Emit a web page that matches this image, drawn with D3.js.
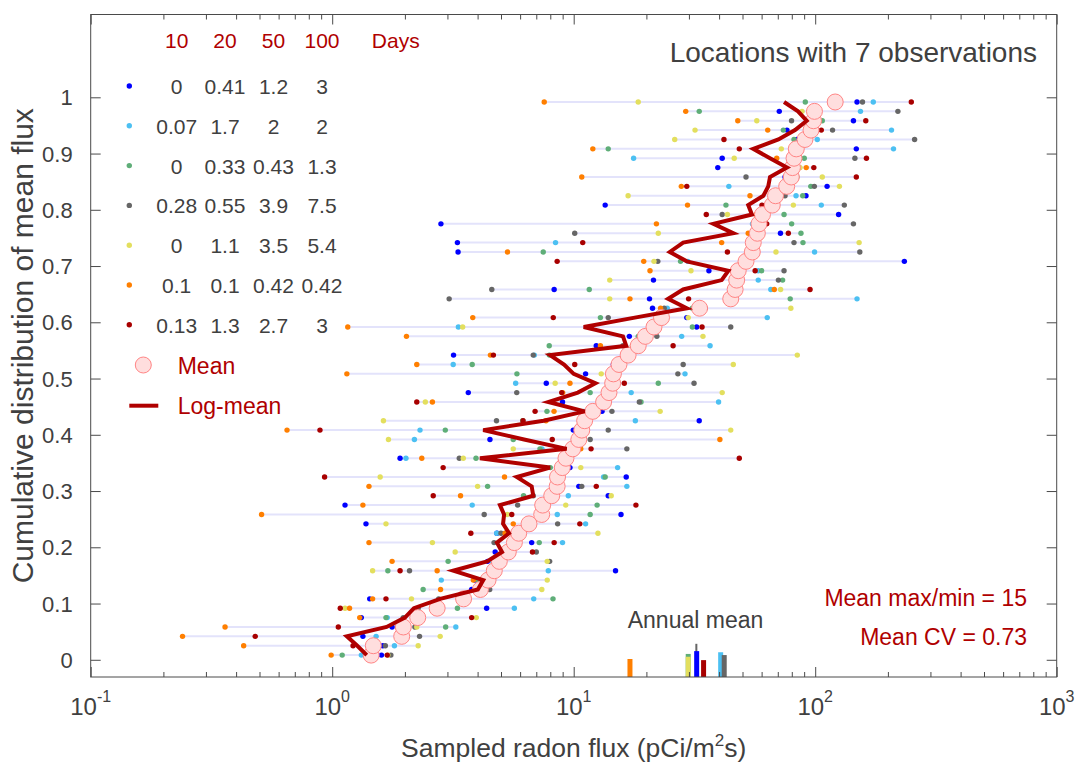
<!DOCTYPE html>
<html>
<head>
<meta charset="utf-8">
<script src="https://cdn.jsdelivr.net/npm/d3@7/dist/d3.min.js"></script>
<style>
  html, body { margin: 0; padding: 0; background: #fff; }
  svg { display: block; font-family: "Liberation Sans", Arial, Helvetica, sans-serif; }
</style>
</head>
<body>
<svg id="chart" width="1077" height="763"></svg>
<script>
// one value per location, ordered from the lowest mean (bottom row) to the highest
const blueFlux = [1.6, 1.62, 1.34, 1.77, 1.32, 4.36, 1.43, 3.78, 3.9, 14.9,
  4.4, 4.73, 6.7, 4.81, 1.38, 15.7, 1.13, 13.9, 10.5, 16.5,
  9.65, 1.91, 10.0, 4.5, 9.96, 33.1, 13.1, 8.99, 3.66, 7.7,
  11.2, 14.6, 3.18, 12.4, 17.0, 32.3, 29.4, 21.2, 20.6, 8.3,
  21.4, 36.3, 234, 3.32, 3.3, 71.8, 2.82, 125, 13.5, 91.6,
  112, 75, 39.5, 41.2, 148, 83.8, 76.4, 144, 71, 149];
const cyanFlux = [1.32, 1.81, 1.52, 3.25, 1.69, 5.68, 6.83, 4.0, 2.83, 7.85,
  4.6, 5.2, 8.99, 4.8, 11.2, 8.55, 3.8, 9.5, 16.6, 13.3,
  15.2, 2.02, 7.39, 2.19, 2.31, 18.0, 11.0, 39.8, 17.3, 5.75,
  28.9, 3.17, 6.87, 36.7, 28.0, 3.33, 63.3, 24.4, 149, 65.5,
  58.1, 58.1, 29.7, 99.4, 8.41, 57, 55, 62, 106, 83.3,
  43.9, 80, 76, 17.7, 211, 102, 207, 97, 154, 174];
const greenFlux = [1.1, 1.45, 1.9, 2.95, 1.67, 3.3, 8.21, 2.38, 4.0, 1.7,
  3.02, 5.4, 7.2, 5.22, 6.6, 11.7, 12.5, 6.2, 4.4, 13.5,
  8.0, 3.94, 7.25, 5.62, 2.94, 6.15, 7.75, 19.0, 11.7, 22.4,
  5.82, 3.8, 7.93, 7.92, 18.5, 31.0, 12.9, 31.0, 78.8, 11.6,
  73.3, 60.0, 27.7, 7.48, 89.0, 87.3, 79.9, 74.3, 42.7, 88.8,
  95.9, 84, 80, 90.1, 13.9, 81.7, 73.8, 107, 33.1, 91.0];
const grayFlux = [1.75, 1.66, 2.3, 2.2, 1.97, 2.27, 2.76, 4.49, 4.2, 2.09,
  7.95, 7.0, 4.68, 5.0, 8.58, 4.26, 5.86, 6.8, 10.8, 9.0,
  7.6, 3.36, 16.6, 11.7, 13.9, 4.79, 14.4, 18.7, 5.81, 31.5,
  27.0, 28.4, 6.8, 16.0, 22.1, 44.7, 13.9, 23.7, 3.05, 4.58,
  70.4, 74.3, 22.3, 153, 81.7, 10.1, 144, 41.2, 132, 75.0,
  99.2, 51.7, 86, 146, 80, 258, 118, 79.8, 220, 157];
const yellowFlux = [1.7, 2.27, 2.8, 2.24, 3.95, 1.13, 2.13, 7.38, 7.77, 1.47,
  7.77, 3.23, 2.6, 12.6, 1.67, 5.31, 9.27, 14.3, 4.0, 1.58,
  10.7, 3.49, 5.62, 1.71, 44.7, 1.63, 22.8, 2.43, 41.2, 8.38,
  13.0, 45.8, 84.3, 17.5, 34.3, 3.47, 29.8, 79.3, 14.1, 71.9,
  14.1, 30.6, 21.5, 68.8, 152, 22.4, 59, 43.3, 81.2, 16.8,
  126, 107, 86.5, 46.2, 72.4, 26.2, 31.8, 57.3, 88.2, 18.5];
const orangeFlux = [0.99, 0.43, 0.24, 0.36, 1.3, 1.18, 1.47, 2.81, 3.84, 2.72,
  1.77, 5.5, 1.42, 5.2, 5.62, 0.51, 1.34, 3.4, 1.42, 5.17,
  8.5, 2.35, 10.7, 40.3, 0.65, 7.68, 8.29, 2.6, 9.0, 9.65,
  1.15, 2.24, 4.52, 12.9, 2.03, 1.16, 3.82, 22.9, 17.1, 67.7,
  45, 20.7, 19.5, 5.32, 41.0, 52.8, 22.0, 57, 29.6, 53.7,
  27.9, 10.8, 91.8, 69.3, 12.0, 88, 63.6, 47.8, 29.1, 7.55];
const redFlux = [1.69, 1.22, 0.48, 1.06, 3.78, 1.08, 1.67, 4.1, 4.4, 1.91,
  4.8, 6.75, 8.3, 3.75, 10.6, 5.54, 18.1, 2.62, 12.4, 0.93,
  2.88, 48.5, 11.8, 8.15, 0.89, 6.17, 6.92, 2.24, 8.92, 16.2,
  15.0, 10.1, 4.65, 25.8, 19.5, 34.0, 8.23, 35.0, 29.9, 95.2,
  49, 56.4, 8.54, 43.3, 10.9, 77.4, 63, 35.4, 60.2, 68.0,
  29.4, 148, 98.7, 163, 48.5, 41.9, 106, 162, 98, 250];

const meanFlux = [1.45, 1.48, 1.94, 1.97, 2.26, 2.72, 3.5, 4.11, 4.42, 4.69,
  4.92, 5.36, 5.68, 5.92, 6.53, 7.37, 7.44, 8.11, 8.54, 8.57,
  8.97, 9.29, 9.91, 10.5, 10.8, 11.1, 12.0, 13.3, 14.0, 14.5,
  14.6, 15.4, 16.8, 18.5, 19.8, 21.5, 23.1, 33.2, 44.7, 46.6,
  47.3, 48.0, 51.7, 54.9, 55.4, 57.6, 58.5, 60.5, 66.4, 68.5,
  76.2, 79.6, 80.5, 81.7, 83.5, 90.7, 96.1, 98.4, 99.3, 121];
const logMeanFlux = [1.39, 1.27, 1.15, 1.68, 2.0, 2.18, 2.8, 4.01, 4.22, 3.17,
  4.38, 5.05, 4.81, 5.4, 5.1, 5.15, 4.95, 6.8, 6.7, 5.81,
  7.98, 4.09, 9.35, 6.23, 4.22, 7.5, 11.1, 7.85, 10.4, 12.3,
  10.0, 9.12, 7.98, 16.5, 16.0, 11.0, 17.9, 29.4, 24.6, 28.4,
  41.0, 43.7, 29.4, 25.0, 28.4, 45.8, 37.9, 54.7, 52.8, 61.0,
  63.9, 65.0, 76.4, 65.0, 55.4, 70.4, 82.5, 92.2, 84.9, 74.3];

// legend table: share per sampling window
const windowDays = [10, 20, 50, 100];
const legendValues = [
  [0, 0.41, 1.2, 3],
  [0.07, 1.7, 2, 2],
  [0, 0.33, 0.43, 1.3],
  [0.28, 0.55, 3.9, 7.5],
  [0, 1.1, 3.5, 5.4],
  [0.1, 0.1, 0.42, 0.42],
  [0.13, 1.3, 2.7, 3],
];

// annual means, drawn as small bars on the x axis
const annualKeys = ["orange", "green", "yellow", "all", "blue", "red", "cyan", "gray"];
const annualFlux = [17.1, 29.8, 29.8, 32.2, 32.3, 34.5, 40.6, 42.0];
const annualHeight = [0.032, 0.041, 0.036, 0.059, 0.046, 0.030, 0.044, 0.039];

const yTicks = [0, 0.1, 0.2, 0.3, 0.4, 0.5, 0.6, 0.7, 0.8, 0.9, 1];

const colors = {
  blue: "#0000ff", cyan: "#4cc0f2", green: "#5fae78", gray: "#666666",
  yellow: "#e3df5e", orange: "#ff7f00", red: "#a80000", all: "#666666",
};
const series = [
  { key: "blue", values: blueFlux },
  { key: "cyan", values: cyanFlux },
  { key: "green", values: greenFlux },
  { key: "gray", values: grayFlux },
  { key: "yellow", values: yellowFlux },
  { key: "orange", values: orangeFlux },
  { key: "red", values: redFlux },
];

const TXT = "#404040";
const RED = "#b00000";
const AXIS = "#4a4a4a";
const PLOT = { left: 90.7, right: 1056.7, top: 14.5, bottom: 677 };

const x = d3.scaleLog().domain([0.1, 1000]).range([PLOT.left, PLOT.right]);
const y = d3.scaleLinear().domain([-0.0306, 1.1472]).range([PLOT.bottom, PLOT.top]);

const svg = d3.select("#chart");
svg.append("rect").attr("width", 1077).attr("height", 763).attr("fill", "#fff");

const n = meanFlux.length;
const rows = meanFlux.map((m, i) => ({
  p: (i + 0.5) / n,
  mean: m,
  logMean: logMeanFlux[i],
  obs: series.map((s) => ({ key: s.key, v: s.values[i] })),
}));

svg.append("clipPath").attr("id", "plot-clip")
  .append("rect")
  .attr("x", PLOT.left).attr("y", PLOT.top)
  .attr("width", PLOT.right - PLOT.left).attr("height", PLOT.bottom - PLOT.top);

const plot = svg.append("g").attr("clip-path", "url(#plot-clip)");

// range lines per location
plot.append("g").selectAll("line").data(rows).join("line")
  .attr("x1", (d) => x(d3.min(d.obs, (o) => o.v)))
  .attr("x2", (d) => x(d3.max(d.obs, (o) => o.v)))
  .attr("y1", (d) => y(d.p)).attr("y2", (d) => y(d.p))
  .attr("stroke", "#e3e3fb").attr("stroke-width", 2);

// sampled fluxes
plot.append("g").selectAll("g").data(rows).join("g")
  .selectAll("circle").data((d) => d.obs.map((o) => ({ ...o, p: d.p }))).join("circle")
  .attr("cx", (d) => x(d.v)).attr("cy", (d) => y(d.p))
  .attr("r", 2.7).attr("fill", (d) => colors[d.key]);

// annual mean bars
annualKeys.forEach((k, i) => {
  const w = k === "all" ? 2 : 5;
  plot.append("rect")
    .attr("x", x(annualFlux[i]) - w / 2)
    .attr("y", y(y.domain()[0] + annualHeight[i]))
    .attr("width", w)
    .attr("height", y(y.domain()[0]) - y(y.domain()[0] + annualHeight[i]))
    .attr("fill", colors[k]);
});

// means
plot.append("g").selectAll("circle").data(rows).join("circle")
  .attr("cx", (d) => x(d.mean)).attr("cy", (d) => y(d.p))
  .attr("r", 8).attr("fill", "#ffdede").attr("stroke", "#ff8585").attr("stroke-width", 1);

// log-mean
plot.append("path").datum(rows)
  .attr("fill", "none").attr("stroke", "#b00000").attr("stroke-width", 4)
  .attr("stroke-linejoin", "miter")
  .attr("d", d3.line().x((d) => x(d.logMean)).y((d) => y(d.p)));

// axes
const allTicks = x.ticks();
const isMajor = (v) => Math.abs(Math.log10(v) - Math.round(Math.log10(v))) < 1e-6;
const majorTicks = allTicks.filter(isMajor);

const styleAxis = (g) => {
  g.select(".domain").remove();
  g.selectAll(".tick line").attr("stroke", AXIS);
};

svg.append("g").attr("transform", `translate(0,${PLOT.bottom})`)
  .call(d3.axisBottom(x).tickValues(allTicks).tickFormat("").tickSizeOuter(0))
  .call(styleAxis)
  .call((g) => g.selectAll(".tick line").attr("y2", (d) => (isMajor(d) ? -10 : -5)));

svg.append("g").attr("transform", `translate(0,${PLOT.top})`)
  .call(d3.axisTop(x).tickValues(allTicks).tickFormat("").tickSizeOuter(0))
  .call(styleAxis)
  .call((g) => g.selectAll(".tick line").attr("y2", (d) => (isMajor(d) ? 10 : 5)));

svg.append("g").attr("transform", `translate(${PLOT.left},0)`)
  .call(d3.axisLeft(y).tickValues(yTicks).tickSize(-10).tickSizeOuter(0).tickPadding(18)
    .tickFormat((d) => String(d)))
  .call(styleAxis)
  .call((g) => g.selectAll(".tick text").attr("fill", TXT).style("font-size", "22px")
    .attr("dy", "0.34em"));

svg.append("g").attr("transform", `translate(${PLOT.right},0)`)
  .call(d3.axisRight(y).tickValues(yTicks).tickSize(-10).tickSizeOuter(0).tickFormat(""))
  .call(styleAxis);

svg.append("rect")
  .attr("x", PLOT.left).attr("y", PLOT.top)
  .attr("width", PLOT.right - PLOT.left).attr("height", PLOT.bottom - PLOT.top)
  .attr("fill", "none").attr("stroke", AXIS).attr("stroke-width", 1);

majorTicks.forEach((v) => {
  const t = svg.append("text").attr("x", x(v)).attr("y", 715)
    .attr("text-anchor", "middle").attr("fill", TXT).style("font-size", "24px");
  t.append("tspan").text("10");
  t.append("tspan").attr("dy", -13).style("font-size", "16px").text(Math.round(Math.log10(v)));
});

const xl = svg.append("text").attr("x", (PLOT.left + PLOT.right) / 2).attr("y", 757)
  .attr("text-anchor", "middle").attr("fill", TXT).style("font-size", "26.5px");
xl.append("tspan").text("Sampled radon flux (pCi/m");
xl.append("tspan").attr("dy", -11).style("font-size", "17px").text("2");
xl.append("tspan").attr("dy", 11).text("s)");

svg.append("text")
  .attr("transform", `translate(33,${(PLOT.top + PLOT.bottom) / 2}) rotate(-90)`)
  .attr("text-anchor", "middle").attr("fill", TXT).style("font-size", "30px")
  .text("Cumulative distribution of mean flux");

// legend
const colX = [176.7, 225, 273.5, 322];
const legendTop = 86;
const legendStep = 39.8;

windowDays.forEach((d, j) => {
  svg.append("text").attr("x", colX[j]).attr("y", 47.5).attr("text-anchor", "middle")
    .attr("fill", RED).style("font-size", "21px").text(d);
});
svg.append("text").attr("x", 395.8).attr("y", 47.5).attr("text-anchor", "middle")
  .attr("fill", RED).style("font-size", "21px").text("Days");

series.forEach((s, i) => {
  const cy = legendTop + i * legendStep;
  svg.append("circle").attr("cx", 129.3).attr("cy", cy).attr("r", 2.7).attr("fill", colors[s.key]);
  legendValues[i].forEach((v, j) => {
    svg.append("text").attr("x", colX[j]).attr("y", cy + 8).attr("text-anchor", "middle")
      .attr("fill", TXT).style("font-size", "21px").text(String(v));
  });
});

svg.append("circle").attr("cx", 143.3).attr("cy", 365).attr("r", 8)
  .attr("fill", "#ffdede").attr("stroke", "#ff8585");
svg.append("text").attr("x", 177.7).attr("y", 373.5).attr("fill", RED)
  .style("font-size", "23px").text("Mean");
svg.append("line").attr("x1", 129.3).attr("x2", 158.3).attr("y1", 405.7).attr("y2", 405.7)
  .attr("stroke", "#b00000").attr("stroke-width", 4);
svg.append("text").attr("x", 177.7).attr("y", 414).attr("fill", RED)
  .style("font-size", "23px").text("Log-mean");

// annotations
svg.append("text").attr("x", 1037).attr("y", 62).attr("text-anchor", "end")
  .attr("fill", TXT).style("font-size", "28px").text("Locations with 7 observations");
svg.append("text").attr("x", 695.5).attr("y", 628).attr("text-anchor", "middle")
  .attr("fill", TXT).style("font-size", "23px").text("Annual mean");
svg.append("text").attr("x", 1027).attr("y", 606).attr("text-anchor", "end")
  .attr("fill", RED).style("font-size", "23px").text("Mean max/min = 15");
svg.append("text").attr("x", 1027).attr("y", 645).attr("text-anchor", "end")
  .attr("fill", RED).style("font-size", "23px").text("Mean CV = 0.73");
</script>
</body>
</html>
